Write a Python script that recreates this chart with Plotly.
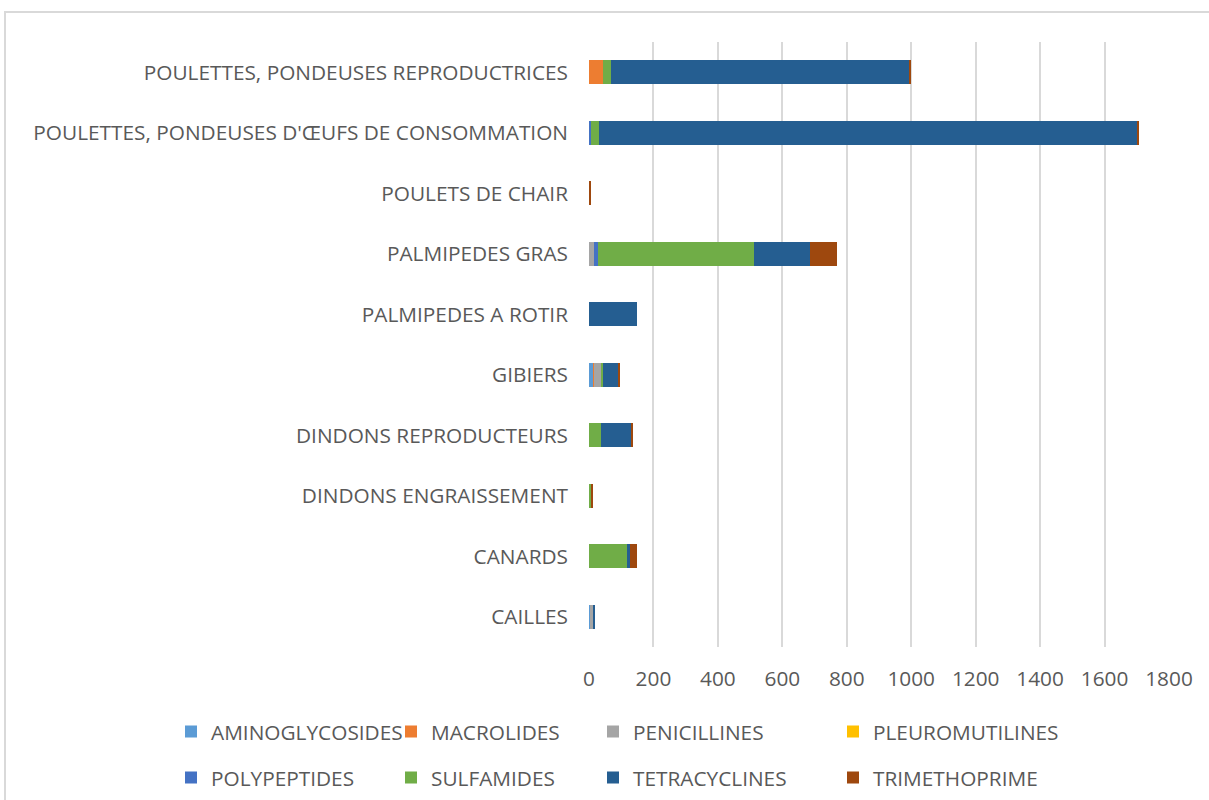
import plotly.graph_objects as go

categories = [
    "POULETTES, PONDEUSES REPRODUCTRICES",
    "POULETTES, PONDEUSES D'ŒUFS DE CONSOMMATION",
    "POULETS DE CHAIR",
    "PALMIPEDES GRAS",
    "PALMIPEDES A ROTIR",
    "GIBIERS",
    "DINDONS REPRODUCTEURS",
    "DINDONS ENGRAISSEMENT",
    "CANARDS",
    "CAILLES",
]

aminoglycosides = [0, 0, 0, 0, 0, 13, 0, 0, 0, 4]
macrolides      = [44, 0, 1, 0, 0, 3, 0, 2, 0, 0]
penicillines    = [0, 0, 0, 15, 0, 20, 0, 0, 0, 10]
pleuromutilines = [0, 0, 0, 0, 0, 0, 0, 0, 0, 0]
polypeptides    = [0, 6, 0, 12, 0, 0, 0, 0, 0, 0]
sulfamides      = [24, 25, 0, 485, 0, 7, 36, 4, 119, 0]
tetracyclines   = [928, 1670, 0, 173, 148, 48, 95, 0, 8, 6]
trimethoprime   = [4, 5, 3, 86, 0, 3, 6, 7, 23, 0]

series_names = ["AMINOGLYCOSIDES", "MACROLIDES", "PENICILLINES", "PLEUROMUTILINES",
                "POLYPEPTIDES", "SULFAMIDES", "TETRACYCLINES", "TRIMETHOPRIME"]
series_values = [aminoglycosides, macrolides, penicillines, pleuromutilines,
                 polypeptides, sulfamides, tetracyclines, trimethoprime]
colors = ["#5B9BD5", "#ED7D31", "#A5A5A5", "#FFC000",
          "#4472C4", "#70AD47", "#255E91", "#9E480E"]
x_ticks = [0, 200, 400, 600, 800, 1000, 1200, 1400, 1600, 1800]

FONT = "Open Sans"
FS = 20.8
TXT = "#595959"

L, R, T, B = 589, 40, 42, 153
PW, PH = 1209 - L - R, 800 - T - B

def px_x(px):
    return (px - L) / PW

def px_y(py):
    return (800 - B - py) / PH

# legend column positions (one legend per column, two rows each)
legend_names = ["legend", "legend2", "legend3", "legend4"]
col_px = [181, 401, 603, 843]

fig = go.Figure()
for i, (name, vals, col) in enumerate(zip(series_names, series_values, colors)):
    fig.add_trace(go.Bar(
        y=categories, x=vals, name=name, orientation="h",
        marker=dict(color=col, line=dict(width=0)),
        legend=legend_names[i % 4], legendgroup=name,
    ))

legend_cfg = {}
for j, ln in enumerate(legend_names):
    legend_cfg[ln] = dict(
        orientation="v", x=px_x(col_px[j] - 10), xanchor="left",
        y=px_y(755), yanchor="middle", itemwidth=30,
        tracegroupgap=16, traceorder="grouped",
        font=dict(family=FONT, size=FS, color=TXT),
        bgcolor="rgba(0,0,0,0)",
    )

fig.update_layout(
    barmode="stack",
    bargap=0.6,
    width=1209, height=800,
    paper_bgcolor="white", plot_bgcolor="white",
    margin=dict(l=L, r=R, t=T, b=B, autoexpand=False),
    font=dict(family=FONT, size=FS, color=TXT),
    xaxis=dict(range=[0, 1800], tickvals=x_ticks, showgrid=True,
               gridcolor="#D9D9D9", gridwidth=2, zeroline=False,
               showline=False, ticks="", ticklabelstandoff=17,
               tickfont=dict(size=FS, color=TXT)),
    yaxis=dict(autorange="reversed", showgrid=False, showline=False, ticks="",
               ticklabelstandoff=20, tickfont=dict(size=FS, color=TXT)),
    shapes=[dict(type="rect", xref="paper", yref="paper",
                 x0=px_x(5), x1=px_x(1230),
                 y0=px_y(820), y1=px_y(12),
                 line=dict(color="#D9D9D9", width=2), fillcolor="rgba(0,0,0,0)",
                 layer="below")],
    **legend_cfg,
)

fig.write_html("out.html", config={"displayModeBar": False},
               post_script="document.body.style.margin='0';document.body.style.overflow='hidden';")
